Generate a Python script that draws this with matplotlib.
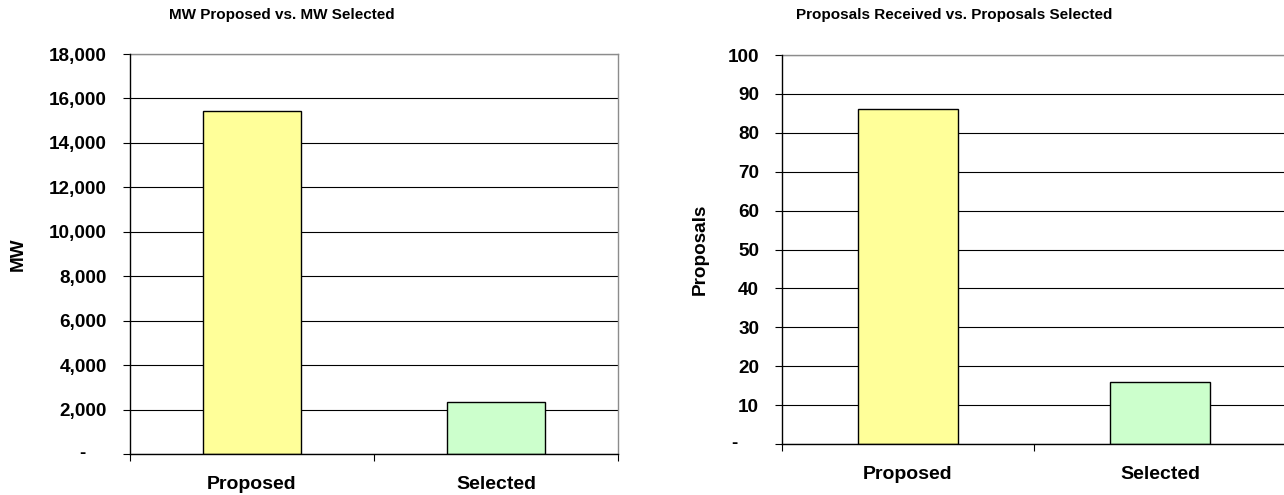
import matplotlib
matplotlib.use("Agg")
import matplotlib.pyplot as plt
from matplotlib.transforms import offset_copy
from matplotlib.ticker import FixedLocator, FuncFormatter

plt.rcParams["font.family"] = ["Liberation Sans", "DejaVu Sans"]
plt.rcParams["font.weight"] = "bold"

categories = ["Proposed", "Selected"]
mw_values = [15450, 2350]
proposal_values = [86, 16]
bar_colors = ["#FFFF99", "#CCFFCC"]

mw_ticks = list(range(0, 18001, 2000))
proposal_ticks = list(range(0, 101, 10))

W, H = 1284, 495
fig = plt.figure(figsize=(W / 100, H / 100), dpi=100)


def acct(v, _pos=None):
    return "" if v == 0 else f"{v:,.0f}"


def make_panel(rect, values, ticks, title, title_x, ylabel, ylabel_x, show_right):
    ax = fig.add_axes(rect)
    x = range(len(categories))
    ax.bar(x, values, width=0.4, color=bar_colors, edgecolor="black",
           linewidth=1.0, zorder=3)
    ax.set_xlim(-0.5, len(categories) - 0.5)
    ax.set_ylim(ticks[0], ticks[-1])

    ax.yaxis.set_major_locator(FixedLocator(ticks))
    ax.yaxis.set_major_formatter(FuncFormatter(acct))
    ax.grid(axis="y", color="black", linewidth=0.8, zorder=1)
    ax.tick_params(axis="y", direction="out", length=5, width=0.8,
                   pad=11.5, labelsize=13.6, color="black")

    ax.set_xticks(list(x))
    ax.set_xticklabels(categories, fontsize=14, fontweight="bold")
    ax.tick_params(axis="x", which="major", length=0, pad=15.5)
    ax.set_xticks([-0.5 + i for i in range(len(categories) + 1)], minor=True)
    ax.tick_params(axis="x", which="minor", direction="out", length=5,
                   width=0.8, color="black")

    for s in ("left", "bottom"):
        ax.spines[s].set_color("black")
        ax.spines[s].set_linewidth(1.0)
    ax.spines["top"].set_color("#8c8c8c")
    ax.spines["top"].set_linewidth(1.0)
    ax.spines["right"].set_color("#8c8c8c")
    ax.spines["right"].set_linewidth(1.0)
    ax.spines["right"].set_visible(show_right)
    ax.spines["left"].set_zorder(4)
    ax.spines["bottom"].set_zorder(4)

    # zero shown as a dash, accounting style
    dash_tr = offset_copy(ax.get_yaxis_transform(), fig=fig, x=-44, y=0,
                          units="dots")
    ax.text(0, ticks[0], "-", transform=dash_tr, ha="right", va="center",
            fontsize=13.6, fontweight="bold")

    fig.text(title_x / W, 1 - 19 / H, title, ha="center", va="baseline",
             fontsize=11, fontweight="bold")
    fig.text(ylabel_x / W, (rect[1] + rect[3] / 2), ylabel, rotation=90,
             ha="center", va="center", fontsize=13.6, fontweight="bold")
    return ax


make_panel([130 / W, 41 / H, 488 / W, 400 / H], mw_values, mw_ticks,
           "MW Proposed vs. MW Selected", 282, "MW", 18, True)
make_panel([782 / W, 51 / H, 504 / W, 389 / H], proposal_values, proposal_ticks,
           "Proposals Received vs. Proposals Selected", 954, "Proposals", 700,
           False)

fig.savefig("out.png", dpi=100, facecolor="white")
